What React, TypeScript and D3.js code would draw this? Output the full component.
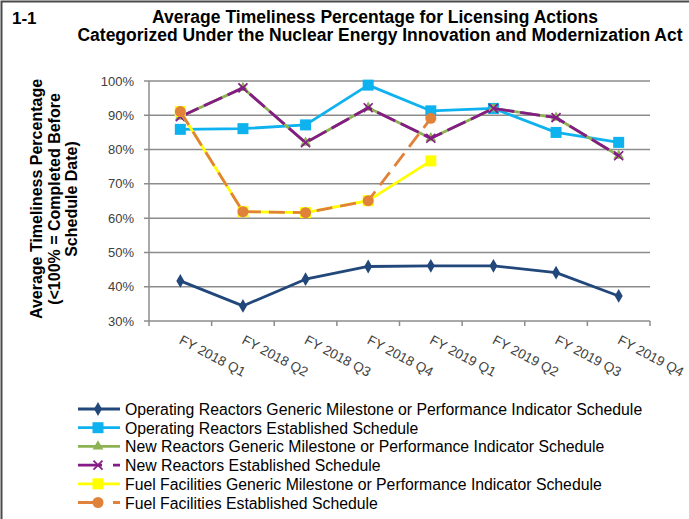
import React from "react";
import * as d3 from "d3";

const quarters = [
  "FY 2018 Q1", "FY 2018 Q2", "FY 2018 Q3", "FY 2018 Q4",
  "FY 2019 Q1", "FY 2019 Q2", "FY 2019 Q3", "FY 2019 Q4",
];
const yTicks = [30, 40, 50, 60, 70, 80, 90, 100];

const opGeneric = [41.7, 34.4, 42.2, 45.9, 46.1, 46.1, 44.1, 37.3];
const opEstablished = [85.9, 86.1, 87.2, 98.8, 91.3, 92.0, 85.0, 82.1];
const newGeneric = [89.6, 98.0, 82.0, 92.2, 83.3, 92.0, 89.3, 78.2];
const newEstablished = [89.6, 98.0, 82.0, 92.2, 83.3, 92.0, 89.3, 78.2];
const fuelGeneric = [91.1, 61.9, 61.6, 65.1, 76.7, null, null, null];
const fuelEstablished = [91.1, 61.9, 61.6, 65.1, 89.1, null, null, null];

const series = [
  { name: "Operating Reactors Generic Milestone or Performance Indicator Schedule", values: opGeneric, color: "#22477b", marker: "diamond", dash: null },
  { name: "Operating Reactors Established Schedule", values: opEstablished, color: "#0db2ee", marker: "square", dash: null },
  { name: "New Reactors Generic Milestone or Performance Indicator Schedule", values: newGeneric, color: "#8db253", marker: "triangle", dash: null },
  { name: "New Reactors Established Schedule", values: newEstablished, color: "#851b86", marker: "x", dash: "20 6" },
  { name: "Fuel Facilities Generic Milestone or Performance Indicator Schedule", values: fuelGeneric, color: "#ffff00", marker: "square", dash: null },
  { name: "Fuel Facilities Established Schedule", values: fuelEstablished, color: "#e0823a", marker: "circle", dash: "16 8" },
];

const W = 689;
const H = 519;
const plot = { left: 149, right: 650, top: 81, bottom: 321 };
const font = "'Liberation Sans', Arial, sans-serif";

function Marker({ type, x, y, color }: { type: string; x: number; y: number; color: string }) {
  if (type === "diamond") {
    return <path d={d3.symbol(d3.symbolDiamond, 55)()!} transform={`translate(${x},${y})`} fill={color} />;
  }
  if (type === "square") {
    return <rect x={x - 5.5} y={y - 5.5} width={11} height={11} fill={color} />;
  }
  if (type === "triangle") {
    return <path d={d3.symbol(d3.symbolTriangle, 50)()!} transform={`translate(${x},${y})`} fill={color} />;
  }
  if (type === "circle") {
    return <circle cx={x} cy={y} r={5.5} fill={color} />;
  }
  // x marker
  return (
    <path d={`M${x - 4.5},${y - 4.5}L${x + 4.5},${y + 4.5}M${x - 4.5},${y + 4.5}L${x + 4.5},${y - 4.5}`}
      stroke={color} strokeWidth={1.7} fill="none" />
  );
}

export default function App() {
  const x = d3.scaleBand().domain(quarters).range([plot.left, plot.right]);
  const y = d3.scaleLinear().domain([30, 100]).range([plot.bottom, plot.top]);
  const cx = (i: number) => x(quarters[i])! + x.bandwidth() / 2;

  const line = d3.line<number | null>()
    .defined((d) => d !== null)
    .x((_, i) => cx(i))
    .y((d) => y(d as number));

  const tickEdges = quarters.map((q) => x(q)!).concat([plot.right]);
  const legendTop = 409;
  const legendStep = 18.7;

  return (
    <div style={{ position: "absolute", left: 0, top: 0 }}>
      <svg width={W} height={H} style={{ display: "block", background: "#fff" }}>
        <rect x={0} y={0} width={W} height={H} fill="#fff" />
        {/* frame, only top and left edges show */}
        <path d={`M1.5,${H}V1.5H${W}`} stroke="#4a4a4a" strokeWidth={2} fill="none" />

        <text x={12} y={24} fontFamily={font} fontWeight="bold" fontSize={17} fill="#000">1-1</text>
        <text x={375} y={23} textAnchor="middle" fontFamily={font} fontWeight="bold" fontSize={17.5} fill="#000">
          Average Timeliness Percentage for Licensing Actions
        </text>
        <text x={380} y={41} textAnchor="middle" fontFamily={font} fontWeight="bold" fontSize={17.5} fill="#000">
          Categorized Under the Nuclear Energy Innovation and Modernization Act
        </text>

        {/* y axis title */}
        <g transform="translate(0,199) rotate(-90)" fontFamily={font} fontWeight="bold" fontSize={16} fill="#000" textAnchor="middle">
          <text x={0} y={42}>Average Timeliness Percentage</text>
          <text x={0} y={59.5}>(&lt;100% = Completed Before</text>
          <text x={0} y={77}>Schedule Date)</text>
        </g>

        {/* gridlines */}
        {yTicks.map((t) => (
          <line key={t} x1={plot.left - 5} x2={plot.right} y1={y(t)} y2={y(t)}
            stroke="#8c8c8c" strokeWidth={1.5} />
        ))}
        <line x1={plot.left} x2={plot.left} y1={plot.top} y2={plot.bottom} stroke="#8c8c8c" strokeWidth={1.5} />
        {tickEdges.map((e, i) => (
          <line key={i} x1={e} x2={e} y1={plot.bottom} y2={plot.bottom + 5} stroke="#8c8c8c" strokeWidth={1.5} />
        ))}

        {yTicks.map((t) => (
          <text key={t} x={plot.left - 15} y={y(t) + 4.5} textAnchor="end" fontFamily={font} fontSize={13} fill="#404040">
            {t}%
          </text>
        ))}

        {quarters.map((q, i) => (
          <text key={q} transform={`translate(${cx(i) - 2},${plot.bottom + 22}) rotate(28)`}
            fontFamily={font} fontSize={13.5} fill="#404040">
            {q}
          </text>
        ))}

        {series.map((s) => (
          <g key={s.name}>
            <path d={line(s.values as (number | null)[])!} fill="none" stroke={s.color} strokeWidth={2.8}
              strokeDasharray={s.dash || undefined} strokeLinejoin="round" />
            {s.values.map((v, i) => v === null ? null : (
              <Marker key={i} type={s.marker} x={cx(i)} y={y(v)} color={s.color} />
            ))}
          </g>
        ))}

        {series.map((s, i) => {
          const ly = legendTop + i * legendStep;
          return (
            <g key={s.name}>
              <line x1={78} x2={120} y1={ly} y2={ly} stroke={s.color} strokeWidth={2.8}
                strokeDasharray={s.dash ? "24 11 7" : undefined} />
              <Marker type={s.marker} x={98} y={ly} color={s.color} />
              <text x={125} y={ly + 6} fontFamily={font} fontSize={15.8} fill="#000">{s.name}</text>
            </g>
          );
        })}
      </svg>
    </div>
  );
}
